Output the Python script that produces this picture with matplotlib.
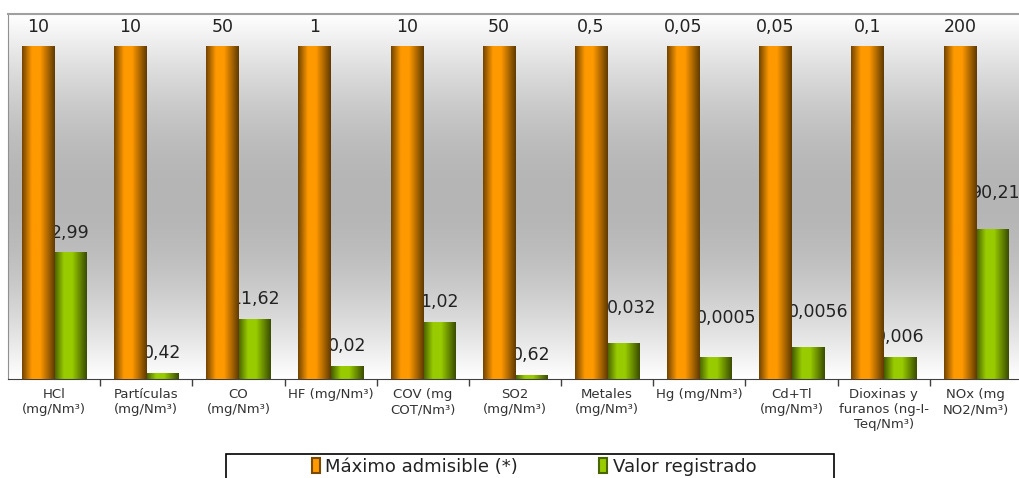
import numpy as np
import matplotlib
matplotlib.use('Agg')
import matplotlib.pyplot as plt
from matplotlib.patches import Patch, Rectangle
from matplotlib.colors import to_rgb

# data (bar heights in % of the allowed maximum)
categories = ['HCl\n(mg/Nm³)', 'Partículas\n(mg/Nm³)', 'CO\n(mg/Nm³)', 'HF (mg/Nm³)',
              'COV (mg\nCOT/Nm³)', 'SO2\n(mg/Nm³)', 'Metales\n(mg/Nm³)', 'Hg (mg/Nm³)',
              'Cd+Tl\n(mg/Nm³)', 'Dioxinas y\nfuranos (ng-I-\nTeq/Nm³)', 'NOx (mg\nNO2/Nm³)']
max_pct = [100, 100, 100, 100, 100, 100, 100, 100, 100, 100, 100]
reg_pct = [37.9, 1.8, 18.0, 3.9, 17.1, 1.1, 10.8, 6.6, 9.6, 6.6, 45.0]
max_labels = ['10', '10', '50', '1', '10', '50', '0,5', '0,05', '0,05', '0,1', '200']
reg_labels = ['2,99', '0,42', '11,62', '0,02', '1,02', '0,62', '0,032', '0,0005',
              '0,0056', '0,006', '90,21']

ORANGE = '#ff9900'
GREEN = '#99cc00'
TXT = '#222222'

plt.rcParams['font.family'] = ['DejaVu Sans']

fig = plt.figure(figsize=(10.2, 4.78), dpi=100)
ax = fig.add_axes([8 / 1020, 99.3 / 478, 1014 / 1020, 364.7 / 478])

x = np.arange(len(categories))
w = 0.35
ymax = 109.6

# background: white -> gray -> white, top to bottom
yy = np.linspace(0, 1, 200)
shade = 1 - 0.29 * np.sin(np.pi * yy)
bg = np.repeat(shade[:, None, None], 3, axis=2)
ax.imshow(bg, extent=[-0.5, len(x) - 0.5, 0, ymax],
          aspect='auto', zorder=0, origin='lower', interpolation='bilinear')


def cyl(color):
    # horizontal "cylinder" shading
    t = np.linspace(0, 1, 64)
    f = np.interp(t, [0, 0.3, 0.55, 1], [0.45, 1.0, 1.0, 0.38])
    c = np.array(to_rgb(color))
    return (f[:, None] * c[None, :])[None, :, :]


def draw_bars(xs, hs, color, z):
    bars = ax.bar(xs, hs, w, color=color, zorder=z, linewidth=0)
    for b in bars:
        x0, y0 = b.get_x(), b.get_y()
        ax.imshow(cyl(color), extent=[x0, x0 + b.get_width(), y0, y0 + b.get_height()],
                  aspect='auto', zorder=z + 0.1, interpolation='bilinear')
    return bars


draw_bars(x - w / 2, max_pct, ORANGE, 3)
draw_bars(x + w / 2, reg_pct, GREEN, 1)

for i in x:
    ax.annotate(max_labels[i], (i - w / 2, max_pct[i]), xytext=(0, 19),
                textcoords='offset pixels', ha='center', va='center',
                fontsize=12.5, color=TXT, zorder=5)

# a few labels were nudged in the original
lift = {6: (8, 35), 7: (11, 39), 8: (11, 35), 10: (4, 36)}
for i in x:
    dx, dy = lift.get(i, (0, 20))
    ax.annotate(reg_labels[i], (i + w / 2, reg_pct[i]), xytext=(dx, dy),
                textcoords='offset pixels', ha='center', va='center',
                fontsize=12.5, color=TXT, zorder=2)

ax.set_xlim(-0.5, len(x) - 0.5)
ax.set_ylim(0, ymax)
ax.set_yticks([])
ax.set_xticks(x)
ax.set_xticklabels(categories, fontsize=9.5, color='#333333')
ax.tick_params(axis='x', which='major', length=0, pad=7)
ax.set_xticks(x[:-1] + 0.5, minor=True)
ax.tick_params(axis='x', which='minor', length=5, width=1, direction='out', color='#404040')

ax.spines['left'].set_color('#909090')
ax.spines['top'].set_color('#a0a0a0')
ax.spines['top'].set_linewidth(1.5)
ax.spines['bottom'].set_color('#404040')
ax.spines['right'].set_visible(False)

# legend box (runs off the bottom of the picture, like the original)
fig.patches.append(Rectangle((226 / 1020, -20 / 478), 608 / 1020, 44 / 478,
                             transform=fig.transFigure, facecolor='white',
                             edgecolor='black', linewidth=1.2, zorder=1))
handles = [Patch(facecolor=ORANGE, edgecolor='#7a4a00', linewidth=1.5),
           Patch(facecolor=GREEN, edgecolor='#4a6600', linewidth=1.5)]
fig.legend(handles, ['Máximo admisible (*)', 'Valor registrado'],
           loc='center', bbox_to_anchor=(534 / 1020, 11 / 478), ncol=2, frameon=False,
           fontsize=13, handlelength=0.45, handleheight=0.9, handletextpad=0.3,
           columnspacing=4.5, labelcolor=TXT)

fig.savefig('out.png', dpi=100)
